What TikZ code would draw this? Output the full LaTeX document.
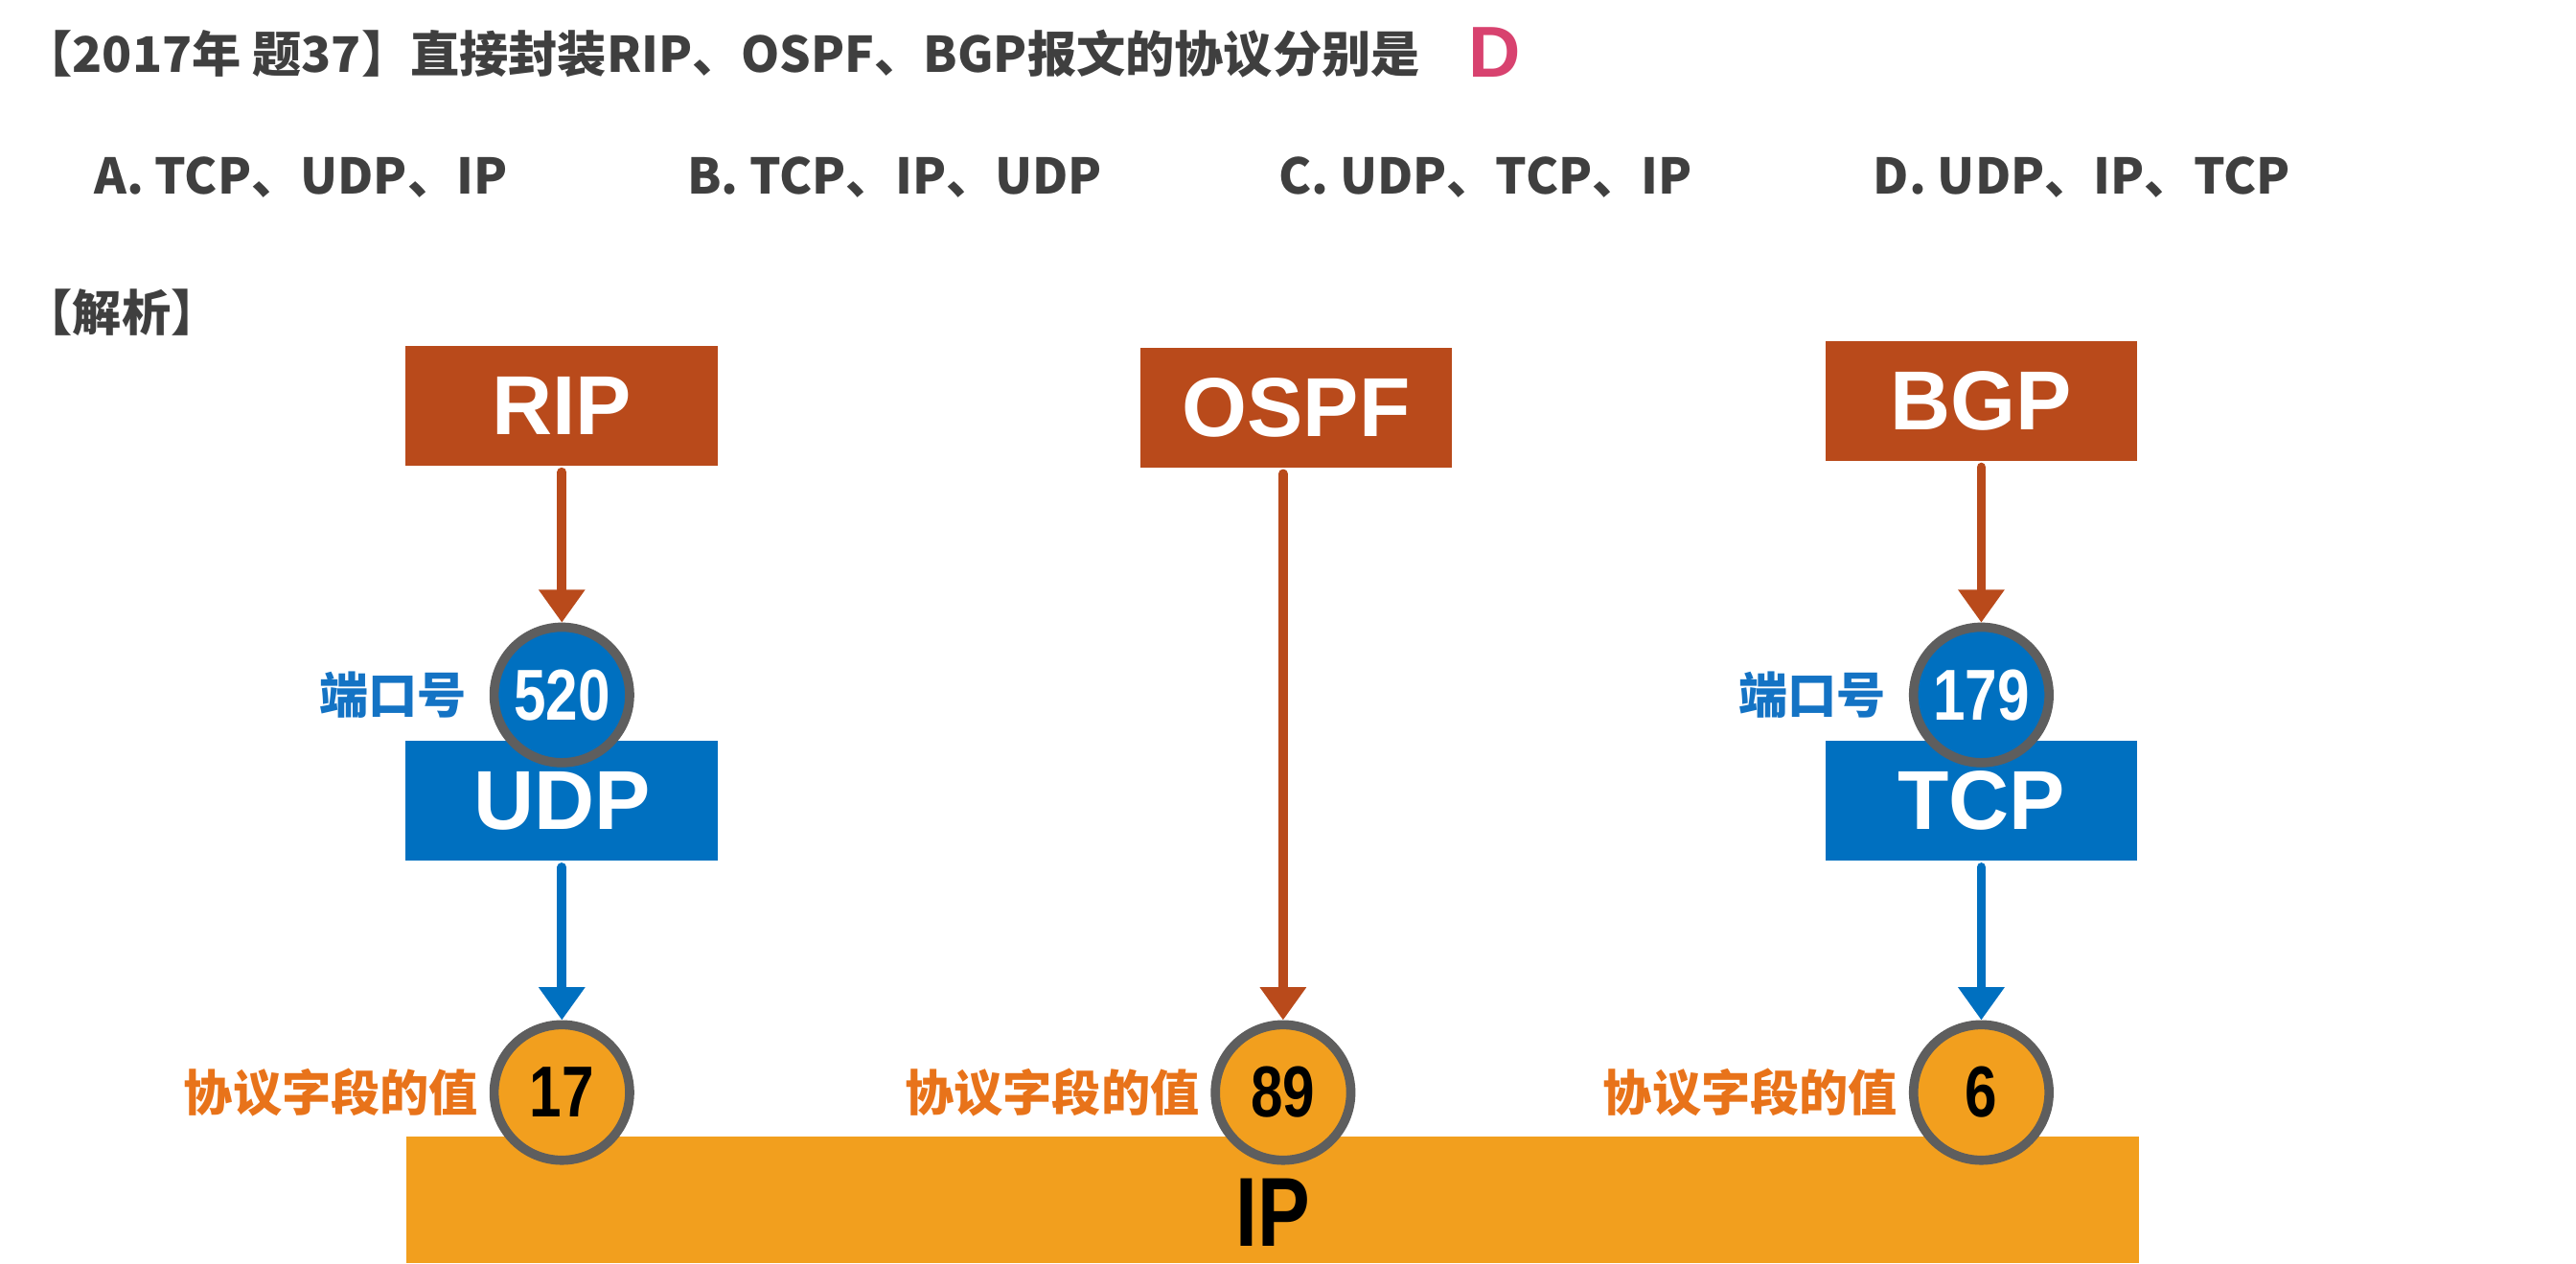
\documentclass[tikz,border=0pt]{standalone}
\usepackage{fontspec}
\setmainfont{Liberation Sans}
\newfontfamily\cjk{Noto Sans CJK SC}
\usepackage{graphicx}
\usetikzlibrary{arrows.meta,positioning}
\definecolor{rust}{HTML}{B94A1B}
\definecolor{tblue}{HTML}{0070C0}
\definecolor{amber}{HTML}{F29F1E}
\definecolor{ring}{HTML}{5E5E5E}
\definecolor{lblorange}{HTML}{E8731A}
\definecolor{lblblue}{HTML}{1473C4}
\definecolor{ink}{HTML}{3F3F3F}
\definecolor{ans}{HTML}{D8426F}
\newcommand{\narrow}[1]{\scalebox{0.8}[1]{#1}}
\tikzset{
  qtxt/.style ={anchor=west,inner sep=0pt,text=ink,font=\cjk\bfseries\fontsize{17}{20}\selectfont},
  blk/.style  ={minimum width=3.8cm,minimum height=1.46cm,inner sep=0pt,text=white,font=\bfseries\fontsize{29}{29}\selectfont},
  app/.style  ={blk,fill=rust},
  trn/.style  ={blk,fill=tblue},
  num/.style  ={circle,draw=ring,line width=3.2pt,minimum size=1.65cm,inner sep=0pt,font=\bfseries\fontsize{25}{25}\selectfont},
  port/.style ={num,fill=tblue,text=white},
  pfld/.style ={num,fill=amber,text=black},
  lbl/.style  ={inner sep=0pt,font=\cjk\bfseries\fontsize{17}{17}\selectfont},
  plbl/.style ={lbl,text=lblblue},
  flbl/.style ={lbl,text=lblorange},
  flow/.style ={line width=3.2pt,line cap=round,shorten <=2pt,-{Triangle[width=0.54cm,length=0.4cm]}},
}

\begin{document}
\begin{tikzpicture}[x=0.02cm,y=-0.02cm]
  \useasboundingbox (0,0) rectangle (1568,769);

  \node[qtxt] (title) at (14,33) {【2017年 题37】直接封装RIP、OSPF、BGP报文的协议分别是};
  \node[inner sep=0pt,text=ans,font=\bfseries\fontsize{25}{25}\selectfont] (answer) at (910,32) {D};
  \node[qtxt] (optA) at (57,108)   {A. TCP、UDP、IP};
  \node[qtxt] (optB) at (418,108)  {B. TCP、IP、UDP};
  \node[qtxt] (optC) at (778,108)  {C. UDP、TCP、IP};
  \node[qtxt] (optD) at (1140,108) {D. UDP、IP、TCP};
  \node[qtxt] (jiexi) at (14,190)  {【解析】};

  \node[fill=amber,minimum width=21.1cm,minimum height=1.54cm,inner sep=0pt] (ip) at (774.5,730.5) {};
  \node[inner sep=0pt,font=\bfseries\fontsize{34}{34}\selectfont] (iplbl) at (775,738) {\narrow{IP}};

  \node[app] (rip)  at (342,247)   {RIP};
  \node[app] (ospf) at (789,248)   {OSPF};
  \node[app] (bgp)  at (1206,244)  {BGP};
  \node[trn] (udp)  at (342,487.5) {UDP};
  \node[trn] (tcp)  at (1206,487.5) {TCP};

  \node[port] (p520) at (342,423)  {\narrow{520}};
  \node[port] (p179) at (1206,423) {\narrow{179}};
  \node[pfld] (f17)  at (342,665)  {\narrow{17}};
  \node[pfld] (f89)  at (781,665)  {\narrow{89}};
  \node[pfld] (f6)   at (1206,665) {\narrow{6}};

  \node[plbl,left=0.27cm of p520] (pl1) {端口号};
  \node[plbl,left=0.27cm of p179] (pl2) {端口号};
  \foreach \f in {f17,f89,f6}
    \node[flbl,left=0.13cm of \f] (lbl-\f) {协议字段的值};

  \draw[flow,rust]  (rip.south) -- (p520.north);
  \draw[flow,rust]  (bgp.south) -- (p179.north);
  \draw[flow,rust]  (ospf.south -| f89.north) -- (f89.north);
  \draw[flow,tblue] (udp.south) -- (f17.north);
  \draw[flow,tblue] (tcp.south) -- (f6.north);
\end{tikzpicture}
\end{document}
